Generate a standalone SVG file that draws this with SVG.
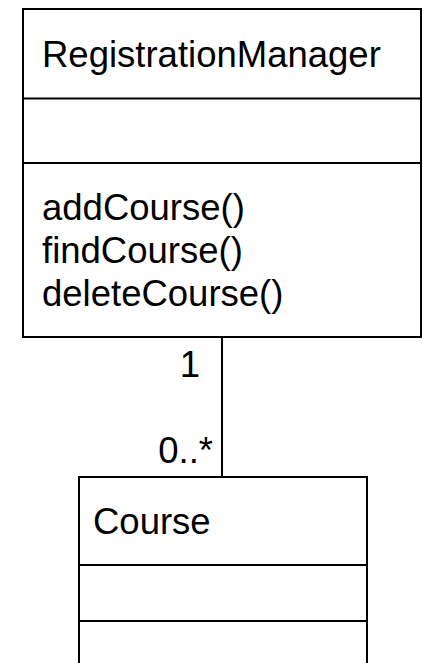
<svg xmlns="http://www.w3.org/2000/svg" width="423" height="663" viewBox="0 0 423 663">
<style>
.box{fill:#fff;stroke:#000;stroke-width:2}
.ln{stroke:#000;stroke-width:2;fill:none}
text{font-family:"Liberation Sans",Arial,sans-serif;font-size:36.5px;fill:#000}
</style>
<rect width="423" height="663" fill="#fff"/>
<g id="connectors">
<line class="ln" x1="222" y1="337" x2="222" y2="477"/>
<text x="200" y="377" text-anchor="end">1</text>
<text x="213" y="463" text-anchor="end">0..*</text>
</g>
<g id="RegistrationManager">
<rect class="box" x="23" y="9" width="398" height="328"/>
<line class="ln" x1="23" y1="98.5" x2="421" y2="98.5"/>
<line class="ln" x1="23" y1="163" x2="421" y2="163"/>
<text x="42" y="67">RegistrationManager</text>
<text x="42" y="219.5">addCourse()</text>
<text x="42" y="262.5">findCourse()</text>
<text x="42" y="305.5">deleteCourse()</text>
</g>
<g id="Course">
<rect class="box" x="79" y="477" width="288" height="200"/>
<line class="ln" x1="79" y1="565" x2="367" y2="565"/>
<line class="ln" x1="79" y1="621" x2="367" y2="621"/>
<text x="93" y="534">Course</text>
</g>
</svg>
